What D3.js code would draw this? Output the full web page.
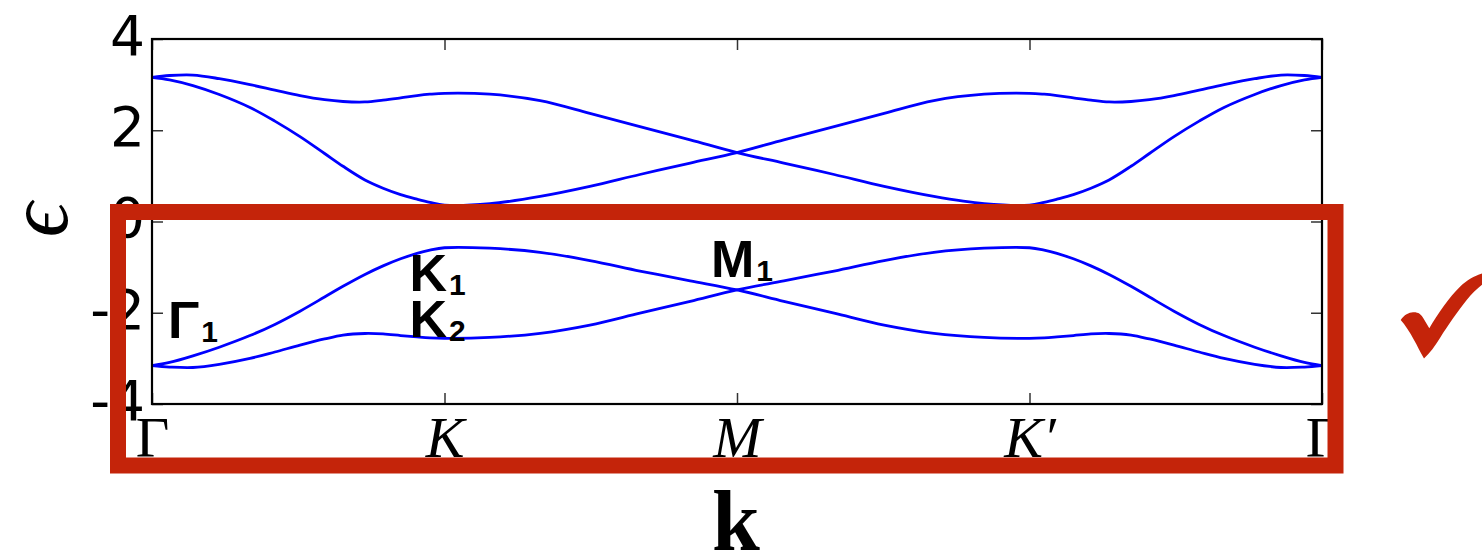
<!DOCTYPE html>
<html>
<head>
<meta charset="utf-8">
<script src="https://cdn.jsdelivr.net/npm/d3@7/dist/d3.min.js"></script>
<style>
  html, body { margin: 0; padding: 0; background: #ffffff; }
  svg { display: block; }
</style>
</head>
<body>
<svg id="chart" width="1482" height="552"></svg>
<script>
// Path through the Brillouin zone: Γ → K → M → K′ → Γ (one unit per segment)
const pathLabels = ["Γ", "K", "M", "K′", "Γ"];
const pathStops = [0, 1, 2, 3, 4];
const energyTicks = [-4, -2, 0, 2, 4];

// sample positions along the path
const kPath = [0, 0.06, 0.14, 0.23, 0.335, 0.42, 0.506, 0.59, 0.653, 0.728, 0.79, 0.85, 0.906, 0.95, 1.0,
  1.155, 1.327, 1.497, 1.668, 1.84, 2.0, 2.16, 2.332, 2.503, 2.673, 2.845, 3.0, 3.05, 3.094, 3.15,
  3.21, 3.272, 3.347, 3.41, 3.494, 3.58, 3.665, 3.77, 3.86, 3.94, 4.0];

// upper pair of bands (they cross at M)
const bandA = [3.16, 3.20, 3.21, 3.13, 3.00, 2.88, 2.76, 2.67, 2.63, 2.62, 2.66, 2.71, 2.76, 2.79, 2.81,
  2.79, 2.65, 2.37, 2.08, 1.79, 1.51, 1.28, 1.03, 0.77, 0.55, 0.39, 0.36, 0.42, 0.49, 0.59,
  0.73, 0.91, 1.21, 1.49, 1.86, 2.20, 2.50, 2.785, 2.98, 3.105, 3.16];
const bandB = [3.16, 3.105, 2.98, 2.785, 2.50, 2.20, 1.86, 1.49, 1.21, 0.91, 0.73, 0.59, 0.49, 0.42, 0.36,
  0.39, 0.55, 0.77, 1.03, 1.28, 1.51, 1.79, 2.08, 2.37, 2.65, 2.79, 2.81, 2.79, 2.76, 2.71,
  2.66, 2.62, 2.63, 2.67, 2.76, 2.88, 3.00, 3.13, 3.21, 3.20, 3.16];

// lower pair of bands (they cross at M)
const bandC = [-3.16, -3.09, -2.945, -2.755, -2.50, -2.255, -1.965, -1.655, -1.42, -1.16, -0.972, -0.816, -0.698, -0.628, -0.575,
  -0.585, -0.675, -0.855, -1.085, -1.30, -1.50, -1.75, -2.01, -2.27, -2.45, -2.54, -2.56, -2.55, -2.53, -2.50,
  -2.465, -2.455, -2.49, -2.575, -2.71, -2.86, -3.00, -3.13, -3.20, -3.19, -3.16];
const bandD = [-3.16, -3.19, -3.20, -3.13, -3.00, -2.86, -2.71, -2.575, -2.49, -2.455, -2.465, -2.50, -2.53, -2.55, -2.56,
  -2.54, -2.45, -2.27, -2.01, -1.75, -1.50, -1.30, -1.085, -0.855, -0.675, -0.585, -0.575, -0.628, -0.698, -0.816,
  -0.972, -1.16, -1.42, -1.655, -1.965, -2.255, -2.50, -2.755, -2.945, -3.09, -3.16];

const bands = [bandA, bandB, bandC, bandD];

// state names and where their text sits (path position, energy of baseline)
const stateNames = ["Γ", "K", "K", "M"];
const stateSubs = ["1", "1", "2", "1"];
const stateK = [0.055, 0.88, 0.88, 1.911];
const stateE = [-2.555, -1.524, -2.533, -1.217];
</script>
<script>
const svg = d3.select("#chart");

const x = d3.scaleLinear().domain([0, 4]).range([152, 1322]);
const y = d3.scaleLinear().domain([-4, 4]).range([404, 39]);

const line = d3.line()
  .x((d, i) => x(kPath[i]))
  .y(d => y(d))
  .curve(d3.curveCatmullRom.alpha(0.5));

// bands
svg.append("g")
  .selectAll("path")
  .data(bands)
  .join("path")
  .attr("d", d => line(d))
  .attr("fill", "none")
  .attr("stroke", "#0000ff")
  .attr("stroke-width", 2.8)
  .attr("stroke-linejoin", "round");

const tickLen = 11;

// left axis with labels
const gl = svg.append("g").attr("transform", `translate(${x(0)},0)`)
  .call(d3.axisLeft(y).tickValues(energyTicks).tickSize(-tickLen).tickPadding(7).tickFormat(d => String(d)));
gl.selectAll("text")
  .attr("font-family", "'DejaVu Sans', sans-serif")
  .attr("font-size", 55)
  .attr("fill", "#000")
  .attr("dy", "0.28em");

// right axis (ticks only)
svg.append("g").attr("transform", `translate(${x(4)},0)`)
  .call(d3.axisRight(y).tickValues(energyTicks).tickSize(-tickLen).tickFormat(""));

// bottom axis with path labels
const gb = svg.append("g").attr("transform", `translate(0,${y(-4)})`)
  .call(d3.axisBottom(x).tickValues(pathStops).tickSize(-tickLen).tickFormat((d, i) => pathLabels[i]));
gb.selectAll("text")
  .attr("font-family", "'Liberation Serif', 'Times New Roman', serif")
  .attr("font-size", 58)
  .attr("fill", "#000")
  .attr("y", 53)
  .attr("dy", 0)
  .attr("font-style", (d, i) => pathLabels[i] === "Γ" ? "normal" : "italic");

// top axis (ticks only)
svg.append("g").attr("transform", `translate(0,${y(4)})`)
  .call(d3.axisTop(x).tickValues(pathStops).tickSize(-tickLen).tickFormat(""));

svg.selectAll(".domain").remove();
svg.selectAll(".tick line").attr("stroke", "#333").attr("stroke-width", 1.5);

// frame
svg.append("rect")
  .attr("x", x(0)).attr("y", y(4))
  .attr("width", x(4) - x(0)).attr("height", y(-4) - y(4))
  .attr("fill", "none").attr("stroke", "#000").attr("stroke-width", 2.2);

// state names with subscripts
const names = svg.append("g")
  .attr("font-family", "'Liberation Sans', Arial, sans-serif")
  .attr("font-weight", "bold")
  .attr("fill", "#000");
stateNames.forEach((nm, i) => {
  const t = names.append("text")
    .attr("x", x(stateK[i]))
    .attr("y", y(stateE[i]))
    .attr("font-size", 52);
  t.append("tspan").text(nm);
  t.append("tspan").attr("font-size", 30).attr("dx", 2).attr("dy", 4).text(stateSubs[i]);
});

// axis titles
svg.append("text")
  .attr("transform", "translate(38,220) rotate(-90)")
  .attr("text-anchor", "middle")
  .attr("dominant-baseline", "central")
  .attr("font-family", "'Liberation Serif', 'DejaVu Serif', serif")
  .attr("font-style", "italic")
  .attr("font-size", 86)
  .text("ϵ");

svg.append("text")
  .attr("x", 736).attr("y", 550)
  .attr("text-anchor", "middle")
  .attr("font-family", "'Liberation Serif', serif")
  .attr("font-weight", "bold")
  .attr("font-size", 86)
  .text("k");

// highlight box around the lower bands
const red = "#c4240a";
svg.append("rect")
  .attr("x", 118).attr("y", 212)
  .attr("width", 1217.5).attr("height", 253.5)
  .attr("fill", "none")
  .attr("stroke", red)
  .attr("stroke-width", 16);

// check mark
svg.append("path")
  .attr("fill", red)
  .attr("d", "M1400.7,320 C1404,315 1409,312.5 1413,312.3 C1418,312 1421,314 1423.5,318.5 " +
    "L1429.3,328.3 C1437,315 1450,296 1460,286.7 C1467,280 1474,276 1482,273.5 L1492,271 " +
    "L1492,279 C1484,282 1475,290 1466.7,300 C1458,311 1448,325 1440,338 " +
    "C1435,346 1430,353 1424,358.5 C1420,352 1417,345 1414,340 C1410,332 1405,325 1400.7,320 Z");
</script>
</body>
</html>
